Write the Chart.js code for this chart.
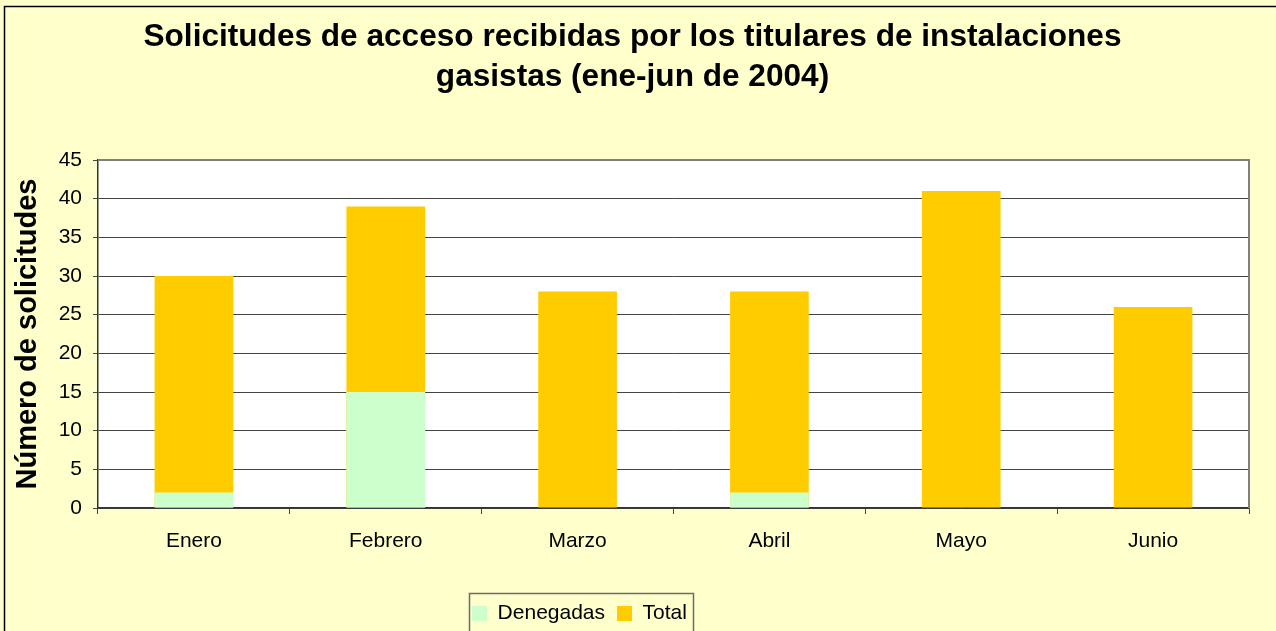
<!DOCTYPE html>
<html>
<head>
<meta charset="utf-8">
<script src="https://cdn.jsdelivr.net/npm/chart.js@4/dist/chart.umd.min.js"></script>
<style>
  html, body { margin: 0; padding: 0; background: #FFFFCC; }
  #wrap { width: 1276px; height: 631px; position: relative; }
</style>
</head>
<body>
<div id="wrap"><canvas id="c" width="1276" height="631"></canvas></div>
<script>
const categories = ['Enero', 'Febrero', 'Marzo', 'Abril', 'Mayo', 'Junio'];
const denegadas = [2, 15, 0, 2, 0, 0];
const total = [30, 39, 28, 28, 41, 26];
const titleLines = ['Solicitudes de acceso recibidas por los titulares de instalaciones', 'gasistas (ene-jun de 2004)'];
const yTitle = 'Número de solicitudes';
const seriesNames = ['Denegadas', 'Total'];

const FONT = 'Liberation Sans, Arial, sans-serif';

const bgPlugin = {
  id: 'bg',
  afterUpdate(chart) {
    const tb = chart.titleBlock;
    if (tb) { tb.left += 6; tb.right += 6; }
    const lg = chart.legend;
    if (lg) {
      lg.left -= 47; lg.right -= 47;
      lg.top += 3; lg.bottom += 3;
      (lg.legendHitBoxes || []).forEach(h => { h.left -= 47; h.top += 3; });
    }
  },
  beforeDraw(chart) {
    const ctx = chart.ctx;
    ctx.save();
    ctx.fillStyle = '#FFFFCC';
    ctx.fillRect(0, 0, chart.width, chart.height);
    const a = chart.chartArea;
    ctx.fillStyle = '#FFFFFF';
    ctx.fillRect(a.left, a.top, a.right - a.left, a.bottom - a.top);
    ctx.strokeStyle = '#000';
    ctx.lineWidth = 1.5;
    ctx.strokeRect(4.5, 6.5, 3000, 3000);
    ctx.restore();
  },
  afterDraw(chart) {
    const ctx = chart.ctx;
    const a = chart.chartArea;
    ctx.save();
    ctx.strokeStyle = '#808080';
    ctx.lineWidth = 2;
    ctx.beginPath();
    ctx.moveTo(a.left, a.top);
    ctx.lineTo(a.right, a.top);
    ctx.lineTo(a.right, a.bottom);
    ctx.stroke();
    // legend frame
    const lg = chart.legend;
    if (lg && lg.legendHitBoxes && lg.legendHitBoxes.length) {
      const hb = lg.legendHitBoxes;
      const l = hb[0].left - 3;
      const r = hb[hb.length - 1].left + hb[hb.length - 1].width + 6;
      const t = hb[0].top - 10;
      ctx.strokeStyle = '#6b6b6b';
      ctx.lineWidth = 1.5;
      ctx.strokeRect(Math.round(l) + 0.5, Math.round(t) + 0.5, Math.round(r - l), 200);
    }
    ctx.restore();
  }
};

new Chart(document.getElementById('c'), {
  type: 'bar',
  data: {
    labels: categories,
    datasets: [
      { label: seriesNames[0], data: denegadas, backgroundColor: '#CCFFCC', borderWidth: 0 },
      { label: seriesNames[1], data: total, backgroundColor: '#FFCC00', borderWidth: 0 }
    ]
  },
  plugins: [bgPlugin],
  options: {
    responsive: false,
    animation: false,
    devicePixelRatio: 1,
    layout: { padding: { left: 4, right: 27, top: 0, bottom: 0 } },
    datasets: { bar: { categoryPercentage: 1, barPercentage: 0.41 } },
    plugins: {
      tooltip: { enabled: false },
      title: {
        display: true,
        text: titleLines,
        color: '#000',
        font: { family: FONT, size: 31.6, weight: 'bold', lineHeight: 1.266 },
        padding: { top: 17, bottom: 63 }
      },
      legend: {
        position: 'bottom',
        labels: {
          color: '#000',
          font: { family: FONT, size: 21 },
          boxWidth: 15,
          boxHeight: 15,
          padding: 12
        }
      }
    },
    scales: {
      x: {
        stacked: true,
        grid: { display: true, drawOnChartArea: false, drawTicks: true, tickLength: 6, color: '#444', offset: true },
        border: { display: true, color: '#333', width: 1.5 },
        ticks: { color: '#000', font: { family: FONT, size: 21 }, padding: 15, maxRotation: 0 },
        afterFit(s) { s.height = 80; }
      },
      y: {
        stacked: false,
        min: 0,
        max: 45,
        ticks: { stepSize: 5, color: '#000', font: { family: FONT, size: 21 }, padding: 11 },
        grid: { color: '#444', lineWidth: 1, tickLength: 5, drawTicks: true },
        border: { display: true, color: '#333', width: 1.5 },
        title: {
          display: true,
          text: yTitle,
          color: '#000',
          font: { family: FONT, size: 29, weight: 'bold', lineHeight: 1.2 },
          padding: { top: 7, bottom: 0 }
        },
        afterFit(s) { s.width = 94; }
      }
    }
  }
});
</script>
</body>
</html>
